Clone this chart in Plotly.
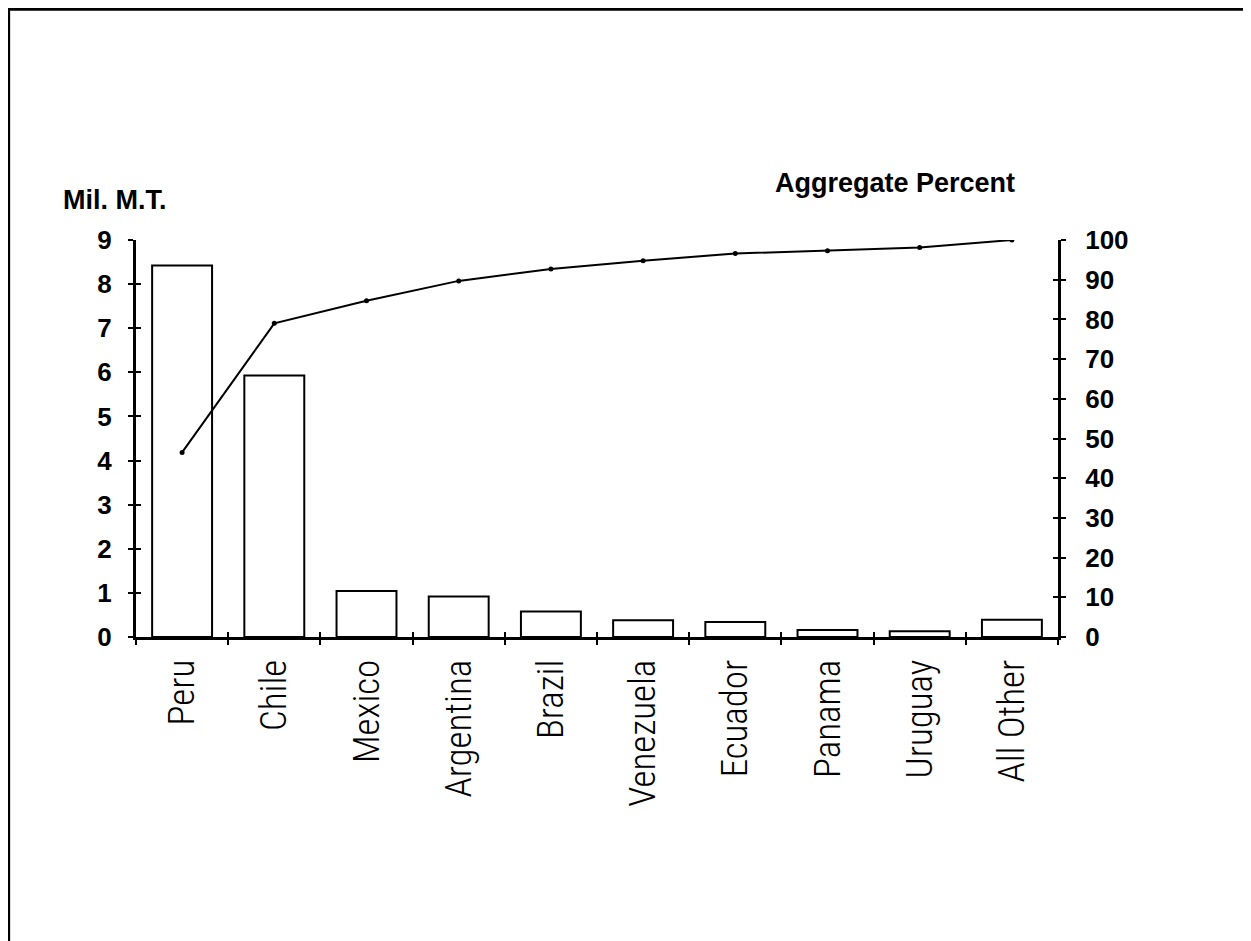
import plotly.graph_objects as go

# ---- data ----
categories = ["Peru", "Chile", "Mexico", "Argentina", "Brazil",
              "Venezuela", "Ecuador", "Panama", "Uruguay", "All Other"]
volume_mil_mt = [8.42, 5.93, 1.04, 0.92, 0.58, 0.38, 0.34, 0.16, 0.13, 0.39]
aggregate_pct = [46.5, 79.0, 84.7, 89.7, 92.7, 94.8, 96.6, 97.3, 98.1, 100.0]
left_ticks = list(range(0, 10))
right_ticks = list(range(0, 101, 10))

# ---- geometry (figure coordinates; page adds an 8px body margin) ----
W, H = 1251, 941
L, R, T, B = 127.7, 1050.0, 232.0, 628.7
pw, ph = R - L, B - T

def px(x):
    return (x - L) / pw

def py(y):
    return (B - y) / ph

tick_font = dict(family="Liberation Sans, Arial, sans-serif", size=26, color="black", weight="bold")
cat_font = dict(family="Roboto Condensed, Liberation Sans Narrow, DejaVu Sans Condensed, Roboto, sans-serif",
                size=37, color="black", weight=300)

fig = go.Figure()
fig.add_trace(go.Bar(
    x=categories, y=volume_mil_mt, width=0.65,
    marker=dict(color="white", line=dict(color="black", width=2)),
    xaxis="x", yaxis="y", showlegend=False, hoverinfo="x+y",
))
fig.add_trace(go.Scatter(
    x=categories, y=aggregate_pct, mode="lines+markers",
    line=dict(color="black", width=2), marker=dict(color="black", size=5),
    xaxis="x", yaxis="y2", showlegend=False,
))

axis_common = dict(showgrid=False, zeroline=False, linecolor="black", linewidth=3,
                   tickcolor="black", tickwidth=2)

fig.update_layout(
    width=W, height=H,
    margin=dict(l=L, r=W - R, t=T, b=H - B, pad=0),
    paper_bgcolor="white", plot_bgcolor="white",
    bargap=0.35,
    xaxis=dict(type="category", categoryorder="array", categoryarray=categories,
               range=[-0.5, len(categories) - 0.5], tickson="boundaries",
               ticks="outside", ticklen=5, showline=True, tickangle=-90,
               tickfont=cat_font, ticklabelstandoff=5, **axis_common),
    xaxis2=dict(overlaying="x", anchor="y", side="bottom", range=[-0.5, len(categories) - 0.5],
                tick0=-0.5, dtick=1, ticks="inside", ticklen=5, showticklabels=False,
                showline=False, showgrid=False, zeroline=False, tickcolor="black", tickwidth=2),
    yaxis=dict(range=[0, 9], tickvals=left_ticks, ticks="outside", ticklen=5, showline=True,
               tickfont=tick_font, ticklabelstandoff=11, **axis_common),
    yaxis2=dict(range=[0, 100], tickvals=right_ticks, overlaying="y", side="right", anchor="x",
                ticks="outside", ticklen=5, showline=True, tickfont=tick_font,
                ticklabelstandoff=14, **axis_common),
    yaxis3=dict(range=[0, 9], tickvals=left_ticks, overlaying="y", side="left", anchor="x",
                ticks="inside", ticklen=5, showticklabels=False, showline=False,
                showgrid=False, zeroline=False, tickcolor="black", tickwidth=2),
    yaxis4=dict(range=[0, 100], tickvals=right_ticks, overlaying="y", side="right", anchor="x",
                ticks="inside", ticklen=5, showticklabels=False, showline=False,
                showgrid=False, zeroline=False, tickcolor="black", tickwidth=2),
)

# empty traces so the overlay tick axes are drawn
fig.add_trace(go.Scatter(x=[], y=[], xaxis="x2", yaxis="y3", showlegend=False, hoverinfo="skip"))
fig.add_trace(go.Scatter(x=[], y=[], xaxis="x", yaxis="y4", showlegend=False, hoverinfo="skip"))

title_font = dict(family="Liberation Sans, Arial, sans-serif", size=27, color="black", weight="bold")
fig.add_annotation(text="Mil. M.T.", xref="paper", yref="paper", x=px(53), y=py(192),
                   xanchor="left", yanchor="middle", showarrow=False, font=title_font)
fig.add_annotation(text="Aggregate Percent", xref="paper", yref="paper", x=px(765), y=py(175),
                   xanchor="left", yanchor="middle", showarrow=False, font=title_font)

# frame lines (top and left) around the page
fig.add_shape(type="line", xref="paper", yref="paper", x0=px(0.3), x1=px(W), y0=py(1.5), y1=py(1.5),
              line=dict(color="black", width=3))
fig.add_shape(type="line", xref="paper", yref="paper", x0=px(0.3), x1=px(0.3), y0=py(0), y1=py(H),
              line=dict(color="black", width=3))

fig.write_html("out.html")
